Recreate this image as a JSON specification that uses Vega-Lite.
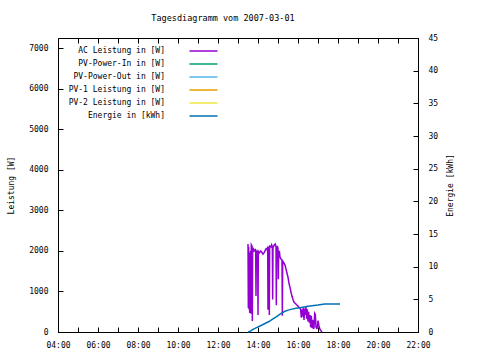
{
  "$schema": "https://vega.github.io/schema/vega-lite/v6.json",
  "autosize": "none",
  "width": 360,
  "height": 294,
  "padding": {"left": 58, "top": 38, "right": 62, "bottom": 28},
  "background": "white",
  "title": {"text": "Tagesdiagramm vom 2007-03-01", "font": "DejaVu Sans Mono", "fontSize": 8.5, "fontWeight": "normal", "color": "black", "offset": 12, "dx": -15},
  "config": {
    "view": {"stroke": "black", "strokeWidth": 1},
    "axis": {"labelFont": "DejaVu Sans Mono", "labelFontSize": 8, "labelColor": "black", "titleFont": "DejaVu Sans Mono", "titleFontSize": 8, "titleFontWeight": "normal", "titleColor": "black", "domainColor": "black", "tickColor": "black", "grid": false}
  },
  "layer": [
    {
      "data": {"values": [
        {"t":"2007-03-01T13:30","w":2170,"s":"AC Leistung in [W]"},
        {"t":"2007-03-01T13:31","w":590,"s":"AC Leistung in [W]"},
        {"t":"2007-03-01T13:32","w":2100,"s":"AC Leistung in [W]"},
        {"t":"2007-03-01T13:33","w":560,"s":"AC Leistung in [W]"},
        {"t":"2007-03-01T13:34","w":1950,"s":"AC Leistung in [W]"},
        {"t":"2007-03-01T13:35","w":470,"s":"AC Leistung in [W]"},
        {"t":"2007-03-01T13:36","w":1900,"s":"AC Leistung in [W]"},
        {"t":"2007-03-01T13:38","w":2000,"s":"AC Leistung in [W]"},
        {"t":"2007-03-01T13:39","w":450,"s":"AC Leistung in [W]"},
        {"t":"2007-03-01T13:40","w":2150,"s":"AC Leistung in [W]"},
        {"t":"2007-03-01T13:42","w":2120,"s":"AC Leistung in [W]"},
        {"t":"2007-03-01T13:43","w":270,"s":"AC Leistung in [W]"},
        {"t":"2007-03-01T13:44","w":2080,"s":"AC Leistung in [W]"},
        {"t":"2007-03-01T13:46","w":2050,"s":"AC Leistung in [W]"},
        {"t":"2007-03-01T13:48","w":2000,"s":"AC Leistung in [W]"},
        {"t":"2007-03-01T13:51","w":2030,"s":"AC Leistung in [W]"},
        {"t":"2007-03-01T13:53","w":1980,"s":"AC Leistung in [W]"},
        {"t":"2007-03-01T13:54","w":890,"s":"AC Leistung in [W]"},
        {"t":"2007-03-01T13:55","w":1990,"s":"AC Leistung in [W]"},
        {"t":"2007-03-01T13:57","w":1960,"s":"AC Leistung in [W]"},
        {"t":"2007-03-01T13:59","w":2000,"s":"AC Leistung in [W]"},
        {"t":"2007-03-01T14:00","w":420,"s":"AC Leistung in [W]"},
        {"t":"2007-03-01T14:01","w":1990,"s":"AC Leistung in [W]"},
        {"t":"2007-03-01T14:04","w":1950,"s":"AC Leistung in [W]"},
        {"t":"2007-03-01T14:08","w":2000,"s":"AC Leistung in [W]"},
        {"t":"2007-03-01T14:12","w":1960,"s":"AC Leistung in [W]"},
        {"t":"2007-03-01T14:15","w":1920,"s":"AC Leistung in [W]"},
        {"t":"2007-03-01T14:18","w":1950,"s":"AC Leistung in [W]"},
        {"t":"2007-03-01T14:21","w":2000,"s":"AC Leistung in [W]"},
        {"t":"2007-03-01T14:24","w":2050,"s":"AC Leistung in [W]"},
        {"t":"2007-03-01T14:27","w":2030,"s":"AC Leistung in [W]"},
        {"t":"2007-03-01T14:29","w":2100,"s":"AC Leistung in [W]"},
        {"t":"2007-03-01T14:30","w":550,"s":"AC Leistung in [W]"},
        {"t":"2007-03-01T14:31","w":2080,"s":"AC Leistung in [W]"},
        {"t":"2007-03-01T14:33","w":2060,"s":"AC Leistung in [W]"},
        {"t":"2007-03-01T14:34","w":420,"s":"AC Leistung in [W]"},
        {"t":"2007-03-01T14:35","w":2120,"s":"AC Leistung in [W]"},
        {"t":"2007-03-01T14:39","w":2100,"s":"AC Leistung in [W]"},
        {"t":"2007-03-01T14:41","w":2150,"s":"AC Leistung in [W]"},
        {"t":"2007-03-01T14:43","w":2100,"s":"AC Leistung in [W]"},
        {"t":"2007-03-01T14:44","w":800,"s":"AC Leistung in [W]"},
        {"t":"2007-03-01T14:45","w":2080,"s":"AC Leistung in [W]"},
        {"t":"2007-03-01T14:49","w":2150,"s":"AC Leistung in [W]"},
        {"t":"2007-03-01T14:52","w":2170,"s":"AC Leistung in [W]"},
        {"t":"2007-03-01T14:54","w":2100,"s":"AC Leistung in [W]"},
        {"t":"2007-03-01T14:55","w":660,"s":"AC Leistung in [W]"},
        {"t":"2007-03-01T14:56","w":2000,"s":"AC Leistung in [W]"},
        {"t":"2007-03-01T14:58","w":2120,"s":"AC Leistung in [W]"},
        {"t":"2007-03-01T15:00","w":2050,"s":"AC Leistung in [W]"},
        {"t":"2007-03-01T15:01","w":1300,"s":"AC Leistung in [W]"},
        {"t":"2007-03-01T15:02","w":1950,"s":"AC Leistung in [W]"},
        {"t":"2007-03-01T15:04","w":2000,"s":"AC Leistung in [W]"},
        {"t":"2007-03-01T15:06","w":1850,"s":"AC Leistung in [W]"},
        {"t":"2007-03-01T15:09","w":1800,"s":"AC Leistung in [W]"},
        {"t":"2007-03-01T15:12","w":1780,"s":"AC Leistung in [W]"},
        {"t":"2007-03-01T15:13","w":400,"s":"AC Leistung in [W]"},
        {"t":"2007-03-01T15:14","w":1750,"s":"AC Leistung in [W]"},
        {"t":"2007-03-01T15:18","w":1700,"s":"AC Leistung in [W]"},
        {"t":"2007-03-01T15:21","w":1650,"s":"AC Leistung in [W]"},
        {"t":"2007-03-01T15:24","w":1550,"s":"AC Leistung in [W]"},
        {"t":"2007-03-01T15:27","w":1450,"s":"AC Leistung in [W]"},
        {"t":"2007-03-01T15:30","w":1350,"s":"AC Leistung in [W]"},
        {"t":"2007-03-01T15:33","w":1200,"s":"AC Leistung in [W]"},
        {"t":"2007-03-01T15:36","w":1100,"s":"AC Leistung in [W]"},
        {"t":"2007-03-01T15:39","w":980,"s":"AC Leistung in [W]"},
        {"t":"2007-03-01T15:42","w":880,"s":"AC Leistung in [W]"},
        {"t":"2007-03-01T15:45","w":800,"s":"AC Leistung in [W]"},
        {"t":"2007-03-01T15:48","w":740,"s":"AC Leistung in [W]"},
        {"t":"2007-03-01T15:51","w":710,"s":"AC Leistung in [W]"},
        {"t":"2007-03-01T15:54","w":690,"s":"AC Leistung in [W]"},
        {"t":"2007-03-01T15:57","w":660,"s":"AC Leistung in [W]"},
        {"t":"2007-03-01T16:00","w":640,"s":"AC Leistung in [W]"},
        {"t":"2007-03-01T16:03","w":610,"s":"AC Leistung in [W]"},
        {"t":"2007-03-01T16:06","w":590,"s":"AC Leistung in [W]"},
        {"t":"2007-03-01T16:08","w":540,"s":"AC Leistung in [W]"},
        {"t":"2007-03-01T16:10","w":350,"s":"AC Leistung in [W]"},
        {"t":"2007-03-01T16:12","w":560,"s":"AC Leistung in [W]"},
        {"t":"2007-03-01T16:14","w":380,"s":"AC Leistung in [W]"},
        {"t":"2007-03-01T16:16","w":600,"s":"AC Leistung in [W]"},
        {"t":"2007-03-01T16:18","w":300,"s":"AC Leistung in [W]"},
        {"t":"2007-03-01T16:20","w":580,"s":"AC Leistung in [W]"},
        {"t":"2007-03-01T16:22","w":420,"s":"AC Leistung in [W]"},
        {"t":"2007-03-01T16:24","w":620,"s":"AC Leistung in [W]"},
        {"t":"2007-03-01T16:26","w":330,"s":"AC Leistung in [W]"},
        {"t":"2007-03-01T16:28","w":560,"s":"AC Leistung in [W]"},
        {"t":"2007-03-01T16:30","w":260,"s":"AC Leistung in [W]"},
        {"t":"2007-03-01T16:32","w":500,"s":"AC Leistung in [W]"},
        {"t":"2007-03-01T16:34","w":230,"s":"AC Leistung in [W]"},
        {"t":"2007-03-01T16:36","w":420,"s":"AC Leistung in [W]"},
        {"t":"2007-03-01T16:38","w":120,"s":"AC Leistung in [W]"},
        {"t":"2007-03-01T16:40","w":400,"s":"AC Leistung in [W]"},
        {"t":"2007-03-01T16:42","w":100,"s":"AC Leistung in [W]"},
        {"t":"2007-03-01T16:44","w":300,"s":"AC Leistung in [W]"},
        {"t":"2007-03-01T16:46","w":90,"s":"AC Leistung in [W]"},
        {"t":"2007-03-01T16:48","w":100,"s":"AC Leistung in [W]"},
        {"t":"2007-03-01T16:50","w":460,"s":"AC Leistung in [W]"},
        {"t":"2007-03-01T16:52","w":430,"s":"AC Leistung in [W]"},
        {"t":"2007-03-01T16:54","w":120,"s":"AC Leistung in [W]"},
        {"t":"2007-03-01T16:56","w":90,"s":"AC Leistung in [W]"},
        {"t":"2007-03-01T16:58","w":100,"s":"AC Leistung in [W]"},
        {"t":"2007-03-01T17:00","w":280,"s":"AC Leistung in [W]"},
        {"t":"2007-03-01T17:03","w":150,"s":"AC Leistung in [W]"},
        {"t":"2007-03-01T17:06","w":60,"s":"AC Leistung in [W]"},
        {"t":"2007-03-01T17:09","w":30,"s":"AC Leistung in [W]"},
        {"t":"2007-03-01T17:12","w":0,"s":"AC Leistung in [W]"}
      ]},
      "mark": {"type": "line", "strokeWidth": 1.5},
      "encoding": {
        "x": {"field": "t", "type": "temporal",
          "scale": {"domain": [{"year":2007,"month":3,"date":1,"hours":4},{"year":2007,"month":3,"date":1,"hours":22}], "nice": false},
          "axis": {"title": null, "orient": "bottom", "values": [
            {"year":2007,"month":3,"date":1,"hours":4},{"year":2007,"month":3,"date":1,"hours":5},{"year":2007,"month":3,"date":1,"hours":6},{"year":2007,"month":3,"date":1,"hours":7},{"year":2007,"month":3,"date":1,"hours":8},{"year":2007,"month":3,"date":1,"hours":9},{"year":2007,"month":3,"date":1,"hours":10},{"year":2007,"month":3,"date":1,"hours":11},{"year":2007,"month":3,"date":1,"hours":12},{"year":2007,"month":3,"date":1,"hours":13},{"year":2007,"month":3,"date":1,"hours":14},{"year":2007,"month":3,"date":1,"hours":15},{"year":2007,"month":3,"date":1,"hours":16},{"year":2007,"month":3,"date":1,"hours":17},{"year":2007,"month":3,"date":1,"hours":18},{"year":2007,"month":3,"date":1,"hours":19},{"year":2007,"month":3,"date":1,"hours":20},{"year":2007,"month":3,"date":1,"hours":21},{"year":2007,"month":3,"date":1,"hours":22}],
            "labelExpr": "toNumber(timeFormat(datum.value, '%H')) % 2 == 0 ? timeFormat(datum.value, '%H:%M') : ''",
            "tickSize": -5, "labelPadding": 14, "labelFlush": false, "labelOverlap": false}},
        "y": {"field": "w", "type": "quantitative",
          "scale": {"domain": [0, 7250], "nice": false},
          "axis": {"title": "Leistung [W]", "format": "d", "values": [0,1000,2000,3000,4000,5000,6000,7000], "tickSize": -5, "labelPadding": 15, "titleAngle": 270, "titleX": -47, "titleY": 147, "titleBaseline": "middle", "titleAlign": "center"}},
        "color": {"field": "s", "type": "nominal",
          "scale": {"domain": ["AC Leistung in [W]","PV-Power-In in [W]","PV-Power-Out in [W]","PV-1 Leistung in [W]","PV-2 Leistung in [W]","Energie in [kWh]"], "range": ["#9400d3","#009e73","#56b4e9","#e69f00","#f0e442","#0072b2"]},
          "legend": {"title": null, "orient": "none", "legendX": 141.5, "legendY": 9, "padding": 0, "symbolType": "M-7,0H7", "symbolSize": 16, "symbolStrokeWidth": 1.5, "symbolOffset": 0, "labelAlign": "right", "labelOffset": -42.5, "labelFont": "DejaVu Sans Mono", "labelFontSize": 8, "labelColor": "black", "rowPadding": 5, "labelBaseline": "middle"}}
      }
    },
    {
      "data": {"values": [
        {"t":"2007-03-01T13:30","e":0,"s":"Energie in [kWh]"},
        {"t":"2007-03-01T13:36","e":0.1,"s":"Energie in [kWh]"},
        {"t":"2007-03-01T13:45","e":0.4,"s":"Energie in [kWh]"},
        {"t":"2007-03-01T13:57","e":0.7,"s":"Energie in [kWh]"},
        {"t":"2007-03-01T14:09","e":1.0,"s":"Energie in [kWh]"},
        {"t":"2007-03-01T14:21","e":1.3,"s":"Energie in [kWh]"},
        {"t":"2007-03-01T14:33","e":1.6,"s":"Energie in [kWh]"},
        {"t":"2007-03-01T14:45","e":2.0,"s":"Energie in [kWh]"},
        {"t":"2007-03-01T14:57","e":2.4,"s":"Energie in [kWh]"},
        {"t":"2007-03-01T15:06","e":2.75,"s":"Energie in [kWh]"},
        {"t":"2007-03-01T15:18","e":3.1,"s":"Energie in [kWh]"},
        {"t":"2007-03-01T15:30","e":3.35,"s":"Energie in [kWh]"},
        {"t":"2007-03-01T15:42","e":3.5,"s":"Energie in [kWh]"},
        {"t":"2007-03-01T15:54","e":3.62,"s":"Energie in [kWh]"},
        {"t":"2007-03-01T16:06","e":3.7,"s":"Energie in [kWh]"},
        {"t":"2007-03-01T16:30","e":3.95,"s":"Energie in [kWh]"},
        {"t":"2007-03-01T17:00","e":4.13,"s":"Energie in [kWh]"},
        {"t":"2007-03-01T17:20","e":4.28,"s":"Energie in [kWh]"},
        {"t":"2007-03-01T18:06","e":4.28,"s":"Energie in [kWh]"}
      ]},
      "mark": {"type": "line", "strokeWidth": 1.5},
      "encoding": {
        "x": {"field": "t", "type": "temporal",
          "axis": {"title": null, "orient": "top", "labels": false, "domain": false, "values": [
            {"year":2007,"month":3,"date":1,"hours":4},{"year":2007,"month":3,"date":1,"hours":5},{"year":2007,"month":3,"date":1,"hours":6},{"year":2007,"month":3,"date":1,"hours":7},{"year":2007,"month":3,"date":1,"hours":8},{"year":2007,"month":3,"date":1,"hours":9},{"year":2007,"month":3,"date":1,"hours":10},{"year":2007,"month":3,"date":1,"hours":11},{"year":2007,"month":3,"date":1,"hours":12},{"year":2007,"month":3,"date":1,"hours":13},{"year":2007,"month":3,"date":1,"hours":14},{"year":2007,"month":3,"date":1,"hours":15},{"year":2007,"month":3,"date":1,"hours":16},{"year":2007,"month":3,"date":1,"hours":17},{"year":2007,"month":3,"date":1,"hours":18},{"year":2007,"month":3,"date":1,"hours":19},{"year":2007,"month":3,"date":1,"hours":20},{"year":2007,"month":3,"date":1,"hours":21},{"year":2007,"month":3,"date":1,"hours":22}],
            "tickSize": -5}},
        "y": {"field": "e", "type": "quantitative",
          "scale": {"domain": [0, 45], "nice": false},
          "axis": {"title": "Energie [kWh]", "orient": "right", "values": [0,5,10,15,20,25,30,35,40,45], "tickSize": -5, "labelPadding": 15, "titleAngle": 270, "titleX": 32, "titleY": 147, "titleBaseline": "middle", "titleAlign": "center"}},
        "color": {"field": "s", "type": "nominal",
          "scale": {"domain": ["AC Leistung in [W]","PV-Power-In in [W]","PV-Power-Out in [W]","PV-1 Leistung in [W]","PV-2 Leistung in [W]","Energie in [kWh]"], "range": ["#9400d3","#009e73","#56b4e9","#e69f00","#f0e442","#0072b2"]}}
      }
    }
  ],
  "resolve": {"scale": {"y": "independent"}, "axis": {"x": "independent"}}
}
